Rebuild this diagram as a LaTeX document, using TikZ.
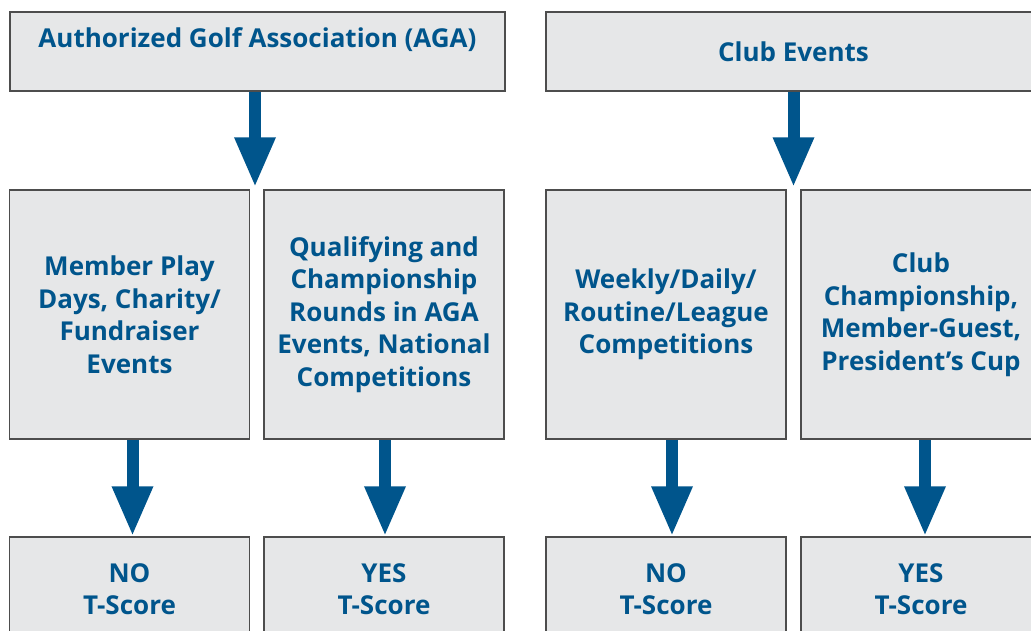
\documentclass[tikz,border=0pt]{standalone}
\usepackage{fontspec}
\setmainfont{Open Sans}
\usetikzlibrary{arrows.meta,positioning}

\definecolor{agablue}{RGB}{0,85,140}
\definecolor{boxgray}{RGB}{230,231,232}
\definecolor{edgegray}{RGB}{77,77,77}

\tikzset{
    box/.style={draw=edgegray, fill=boxgray, line width=1.5pt,
        minimum width=240pt, minimum height=249pt, inner sep=0pt,
        align=center, text=agablue,
        font=\bfseries\fontsize{26}{32.5}\selectfont},
    headbox/.style={box, minimum width=495pt, minimum height=79pt},
    endbox/.style={box, minimum height=104pt},
    flow/.style={agablue, line width=12pt,
        -{Triangle[width=38pt, length=50pt]}}
}

\begin{document}
\begin{tikzpicture}[x=1pt, y=-1pt]
        \useasboundingbox (0, 0) rectangle (1031, 630);
        \clip (0, 0) rectangle (1031, 630);
        \fill[white] (0, 0) rectangle (1031, 630);

        \node[headbox, text depth=27pt] (aga) at (257.5, 51.5)
            {Authorized Golf Association (AGA)};
        \node[headbox] (club) at (793.5, 51.5) {Club Events};

        \node[box] (member) at (129.5, 314.5)
            {Member Play\\Days, Charity/\\Fundraiser\\Events};
        \node[box] (qualify) at (384, 314.5)
            {Qualifying and\\Championship\\Rounds in AGA\\Events, National\\Competitions};
        \node[box] (weekly) at (666, 314.5)
            {Weekly/Daily/\\Routine/League\\Competitions};
        \node[box] (champ) at (921, 314.5)
            {Club\\Championship,\\Member-Guest,\\President’s Cup};

        \node[endbox] (memberno) at (129.5, 589) {NO\\T-Score};
        \node[endbox] (qualifyyes) at (384, 589) {YES\\T-Score};
        \node[endbox] (weeklyno) at (666, 589) {NO\\T-Score};
        \node[endbox] (champyes) at (921, 589) {YES\\T-Score};

        \draw[flow, shorten >=2pt] ([xshift=-2.5pt]aga.south)
            -- ([xshift=-2.5pt]aga.south |- member.north);
        \draw[flow, shorten >=2pt] (club.south) -- (club.south |- weekly.north);

        \foreach \a/\b/\s in {member/memberno/3, qualify/qualifyyes/1,
                weekly/weeklyno/6, champ/champyes/4}
            \draw[flow] ([xshift=\s pt]\a.south) -- ([xshift=\s pt]\b.north);
        ;
    \end{tikzpicture}
\end{document}
